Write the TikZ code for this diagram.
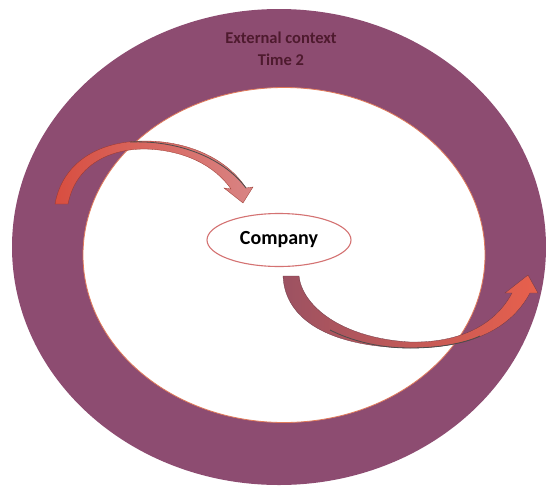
\documentclass[tikz,border=0pt]{standalone}
\usepackage{fontspec}
\setmainfont{Carlito}
\usepackage{xcolor}
\usetikzlibrary{shapes.geometric}
\definecolor{ringmauve}{HTML}{8D4C71}
\definecolor{ringtext}{HTML}{4E1A2E}
\definecolor{rimred}{HTML}{E07A5A}
\definecolor{arrowred}{HTML}{D84E40}
\definecolor{arrowpink}{HTML}{D88484}
\definecolor{arrowmaroon}{HTML}{9C5262}
\definecolor{arroworange}{HTML}{E8604C}
\definecolor{companyrim}{HTML}{D47272}

\begin{document}
\begin{tikzpicture}[x=1pt, y=-1pt]
    \useasboundingbox (0,0) rectangle (546,488);
    \node[ellipse, fill=ringmauve, minimum width=534pt, minimum height=476pt, inner sep=0pt]
        (context) at (279,247) {};
    \node[ellipse, fill=white, draw=rimred, line width=0.8pt, minimum width=402pt, minimum height=335pt, inner sep=0pt]
        (inside) at (284,255) {};
    \node[text=ringtext, align=center, font=\fontsize{16.5}{22}\selectfont\bfseries]
        (label) at (281,49) {External context\\Time 2};
    \node[ellipse, fill=white, draw=companyrim, line width=1.1pt, minimum width=144pt, minimum height=53pt, inner sep=0pt,
          font=\fontsize{20}{22}\selectfont\bfseries]
        (company) at (279,240) {Company};
    % arrow into the company
    \shade[left color=arrowred, right color=arrowpink, draw=arrowred!70!black, line width=0.3pt]
        (55,204) .. controls (62,165) and (95,141) .. (145,141)
        .. controls (190,141) and (228,160) .. (246,188)
        -- (253,187) -- (243,203) -- (224,188) -- (231,189)
        .. controls (215,166) and (185,150) .. (145,149)
        .. controls (105,149) and (75,168) .. (68,204) -- cycle;
    \draw[black!70, line width=0.8pt] (130,142) .. controls (175,140) and (222,156) .. (246,188);
    % arrow out of the company
    \shade[left color=arrowmaroon, right color=arroworange, draw=arrowmaroon!70!black, line width=0.3pt]
        (283,276) -- (299,276)
        .. controls (302,305) and (340,338) .. (410,342)
        .. controls (460,343) and (495,325) .. (512,293)
        -- (505,293) -- (528,275) -- (538,293) -- (530,293)
        .. controls (510,330) and (470,348) .. (410,348)
        .. controls (330,347) and (285,320) .. (283,276) -- cycle;
    \draw[black!70, line width=0.8pt] (330,330) .. controls (360,345) and (390,348) .. (410,348)
        .. controls (440,348) and (465,343) .. (480,336);
\end{tikzpicture}
\end{document}
